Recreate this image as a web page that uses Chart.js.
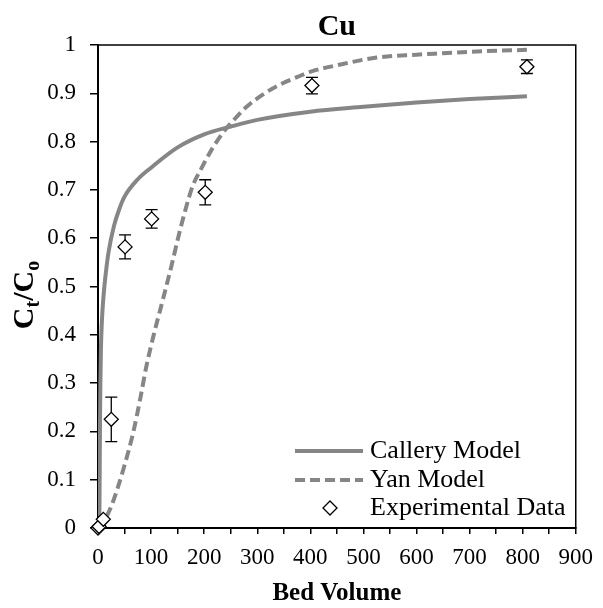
<!DOCTYPE html>
<html>
<head>
<meta charset="utf-8">
<script src="https://cdn.jsdelivr.net/npm/chart.js@4"></script>
<style>
  body { margin: 0; background: #fff; }
  canvas { display: block; }
</style>
</head>
<body>
<canvas id="chart" width="603" height="608"></canvas>
<script>
// Callery model curve
const calleryBV = [2.5, 3.2, 3.8, 4.5, 5.5, 7, 9, 12, 16, 20, 30, 40, 50, 75, 100, 150, 200, 250, 300, 400, 500, 600, 700, 808];
const calleryRatio = [0, 0.12, 0.22, 0.3, 0.37, 0.42, 0.46, 0.5, 0.54, 0.572, 0.625, 0.66, 0.686, 0.722, 0.746, 0.788, 0.815, 0.831, 0.845, 0.862, 0.872, 0.881, 0.888, 0.894];

// Yan model curve
const yanBV = [0, 5, 13, 25, 38, 50, 66, 80, 91, 105, 122, 140, 153, 165, 178, 195, 215, 235, 252, 280, 314, 350, 376, 401, 450, 525, 600, 650, 700, 808];
const yanRatio = [0, 0.002, 0.017, 0.045, 0.086, 0.13, 0.196, 0.27, 0.334, 0.4, 0.472, 0.55, 0.61, 0.66, 0.707, 0.745, 0.785, 0.818, 0.84, 0.872, 0.9, 0.922, 0.934, 0.945, 0.958, 0.974, 0.98, 0.983, 0.986, 0.99];

// experimental points and their error bars
const expBV = [0, 2, 10, 25, 51, 101, 202, 403, 808];
const expRatio = [0, 0.003, 0.018, 0.225, 0.582, 0.64, 0.695, 0.916, 0.955];
const expErr = [0, 0, 0, 0.046, 0.025, 0.019, 0.026, 0.017, 0.014];

const seriesNames = ["Callery Model", "Yan Model", "Experimental Data"];
const chartTitle = "Cu";

const serif = "'Liberation Serif', 'Times New Roman', serif";
const gray = "#868686";

function toPoints(xs, ys) {
    return xs.map((x, i) => ({ x: x, y: ys[i] }));
}

const frame = {
    id: "frame",
    beforeDatasetsDraw(chart) {
        const a = chart.chartArea;
        const c = chart.ctx;
        c.save();
        c.strokeStyle = "#000";
        c.lineWidth = 1.5;
        c.strokeRect(a.left, a.top, a.right - a.left, a.bottom - a.top);
        c.restore();
    }
};

const errorBars = {
    id: "errorBars",
    beforeDatasetDraw(chart, args) {
        if (args.index !== 2) return;
        const c = chart.ctx;
        const xs = chart.scales.x, ys = chart.scales.y;
        c.save();
        c.strokeStyle = "#000";
        c.lineWidth = 1.3;
        expBV.forEach((bv, i) => {
            if (!expErr[i]) return;
            const px = xs.getPixelForValue(bv);
            const top = ys.getPixelForValue(expRatio[i] + expErr[i]);
            const bot = ys.getPixelForValue(expRatio[i] - expErr[i]);
            c.beginPath();
            c.moveTo(px, top); c.lineTo(px, bot);
            c.moveTo(px - 6, top); c.lineTo(px + 6, top);
            c.moveTo(px - 6, bot); c.lineTo(px + 6, bot);
            c.stroke();
        });
        c.restore();
    }
};

// title over the middle of the plot area, and the y title with subscripts
const titles = {
    id: "titles",
    afterDraw(chart) {
        const c = chart.ctx;
        const a = chart.chartArea;
        c.save();
        c.fillStyle = "#000";
        c.font = "bold 30px " + serif;
        c.textAlign = "center";
        c.textBaseline = "middle";
        c.fillText(chartTitle, (a.left + a.right) / 2, 27);

        const big = "bold 30px " + serif;
        const small = "bold 20px " + serif;
        const parts = [["C", big, 0], ["t", small, 6], ["/C", big, 0], ["o", small, 6]];
        c.textAlign = "left";
        c.textBaseline = "alphabetic";
        let total = 0;
        parts.forEach(p => { c.font = p[1]; total += c.measureText(p[0]).width; });
        c.translate(33, 295);
        c.rotate(-Math.PI / 2);
        let x = -total / 2;
        parts.forEach(p => {
            c.font = p[1];
            c.fillText(p[0], x, p[2]);
            x += c.measureText(p[0]).width;
        });
        c.restore();
    }
};

const legendBox = {
    id: "legendBox",
    afterDatasetsDraw(chart) {
        const c = chart.ctx;
        const rows = [451, 480, 508];
        c.save();
        c.strokeStyle = gray;
        c.lineWidth = 4;
        c.beginPath(); c.moveTo(295, rows[0]); c.lineTo(363, rows[0]); c.stroke();
        c.setLineDash([10, 5]);
        c.beginPath(); c.moveTo(295, rows[1]); c.lineTo(363, rows[1]); c.stroke();
        c.setLineDash([]);
        c.fillStyle = "#fff";
        c.strokeStyle = "#000";
        c.lineWidth = 1.3;
        c.beginPath();
        c.moveTo(330, rows[2] - 7); c.lineTo(337, rows[2]); c.lineTo(330, rows[2] + 7); c.lineTo(323, rows[2]);
        c.closePath(); c.fill(); c.stroke();
        c.fillStyle = "#000";
        c.font = "26px " + serif;
        c.textBaseline = "middle";
        seriesNames.forEach((n, i) => c.fillText(n, 370, rows[i]));
        c.restore();
    }
};

const tickFont = { family: serif, size: 23 };

new Chart(document.getElementById("chart").getContext("2d"), {
    type: "scatter",
    data: {
        datasets: [
            {
                label: seriesNames[0],
                data: toPoints(calleryBV, calleryRatio),
                showLine: true,
                borderColor: gray,
                borderWidth: 4,
                pointRadius: 0,
                cubicInterpolationMode: "monotone",
                order: 2
            },
            {
                label: seriesNames[1],
                data: toPoints(yanBV, yanRatio),
                showLine: true,
                borderColor: gray,
                borderWidth: 4,
                borderDash: [10, 5],
                pointRadius: 0,
                cubicInterpolationMode: "monotone",
                order: 1
            },
            {
                label: seriesNames[2],
                data: toPoints(expBV, expRatio),
                pointStyle: "rectRot",
                pointRadius: 7,
                backgroundColor: "#fff",
                borderColor: "#000",
                borderWidth: 1.3,
                clip: false,
                order: 0
            }
        ]
    },
    options: {
        responsive: false,
        animation: false,
        layout: { padding: { top: 45, right: 22, bottom: 0, left: 0 } },
        plugins: {
            legend: { display: false },
            tooltip: { enabled: false },
            title: { display: false }
        },
        scales: {
            x: {
                type: "linear",
                min: 0,
                max: 900,
                ticks: {
                    stepSize: 50,
                    autoSkip: false,
                    maxRotation: 0,
                    padding: 10,
                    color: "#000",
                    font: tickFont,
                    callback: v => (v % 100 === 0 ? String(v) : "")
                },
                grid: { drawOnChartArea: false, tickLength: 6, color: "#000", lineWidth: 1.5 },
                border: { color: "#000", width: 2 },
                title: {
                    display: true,
                    text: "Bed Volume",
                    color: "#000",
                    font: { family: serif, size: 25, weight: "bold" },
                    padding: { top: 0, bottom: -1 }
                },
                afterFit: s => { s.height = 80; }
            },
            y: {
                min: 0,
                max: 1,
                ticks: {
                    stepSize: 0.1,
                    padding: 14,
                    color: "#000",
                    font: tickFont,
                    callback: v => String(Math.round(v * 10) / 10)
                },
                grid: { drawOnChartArea: false, tickLength: 8, color: "#000", lineWidth: 1.5 },
                border: { color: "#000", width: 2 },
                afterFit: s => { s.width = 98; }
            }
        }
    },
    plugins: [frame, errorBars, titles, legendBox]
});
</script>
</body>
</html>
